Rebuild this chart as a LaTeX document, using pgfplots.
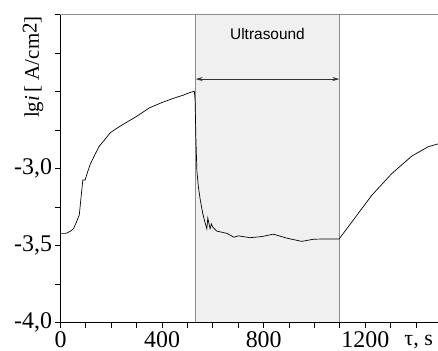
\documentclass[border=0pt]{standalone}
\usepackage{pgfplots}
\pgfplotsset{compat=1.18}
\usepackage{fontspec}
\setmainfont{Liberation Serif}
\newfontfamily\arialfont{Liberation Sans}
\usetikzlibrary{arrows.meta}
\definecolor{bandgray}{HTML}{F0F0F0}
\definecolor{edgegray}{HTML}{8C8C8C}
\begin{document}
\begin{tikzpicture}
\begin{axis}[
  at={(0,0)}, anchor=south west,
  scale only axis,
  width=381bp, height=308bp,
  xmin=0, xmax=1500, ymin=-4, ymax=-2,
  axis x line*=bottom, axis y line*=left,
  axis line style={line width=1.3pt, -},
  tick align=outside,
  xtick={0,400,800,1200}, xticklabels={0,400,800,1200},
  minor xtick={100,200,300,500,600,700,900,1000,1100,1300,1400},
  ytick={-4,-3.5,-3}, yticklabels={{-4,0},{-3,5},{-3,0}},
  extra y ticks={-3.75,-3.25,-2.75,-2.5,-2.25,-2},
  extra y tick labels={},
  major tick length=5bp, minor tick length=5bp,
  tick style={line width=1.1pt, black},
  tick label style={font=\fontsize{24}{26}\selectfont},
  xticklabel style={yshift=-3bp, inner sep=1bp},
  axis on top,
  clip=false,
]
\fill[bandgray] (axis cs:530,-4) rectangle (axis cs:1100,-2);
\draw[edgegray, line width=0.9pt] (axis cs:530,-4) -- (axis cs:530,-2);
\draw[edgegray, line width=0.9pt] (axis cs:1100,-4) -- (axis cs:1100,-2);
\draw[edgegray, line width=0.9pt] (rel axis cs:0,1) -- (rel axis cs:1,1);
\draw[black!80, line width=1.1pt, {Stealth[length=7bp,width=4bp]}-{Stealth[length=7bp,width=4bp]}]
  (axis cs:532,-2.418) -- (axis cs:1098,-2.418);
\node[font=\arialfont\fontsize{15.5}{17}\selectfont] at (axis cs:815,-2.122) {Ultrasound};
\addplot[black, line width=0.7pt] coordinates {
(0,-3.42) (15,-3.42) (25,-3.418) (40,-3.405) (51,-3.39) (62,-3.35) (74,-3.30)
(80,-3.20) (88,-3.073) (97,-3.073) (107,-3.02) (117,-2.972) (135,-2.91)
(153,-2.853) (175,-2.81) (195,-2.768) (215,-2.745) (235,-2.724) (267,-2.692)
(300,-2.66) (350,-2.605) (400,-2.57) (450,-2.54) (484,-2.522) (510,-2.505)
(527,-2.497) (530,-2.56) (533,-2.80) (537,-3.016) (543,-3.12) (550,-3.20)
(560,-3.29) (569,-3.35) (576,-3.39) (580,-3.32) (585,-3.36) (589,-3.39)
(594,-3.359) (600,-3.38) (615,-3.405) (655,-3.42) (683,-3.445) (700,-3.436)
(746,-3.448) (792,-3.441) (838,-3.425) (891,-3.451) (950,-3.472) (996,-3.458)
(1050,-3.456) (1097,-3.456) (1226,-3.172) (1304,-3.032) (1383,-2.918)
(1448,-2.857) (1484,-2.84) (1500,-2.833)
};
\node[rotate=90, font=\fontsize{21}{23}\selectfont] at (rel axis cs:-0.072,0.83)
  {lg\textit{i}\,[ A/cm\raisebox{0.25ex}{2}]};
\node[anchor=base, font=\fontsize{22}{24}\selectfont] at (rel axis cs:0.94,-0.074) {τ, s};
\end{axis}
\pgfresetboundingbox
\path[use as bounding box] (-60.5bp,-28.3bp) rectangle (377.5bp,322.7bp);
\end{tikzpicture}
\end{document}
